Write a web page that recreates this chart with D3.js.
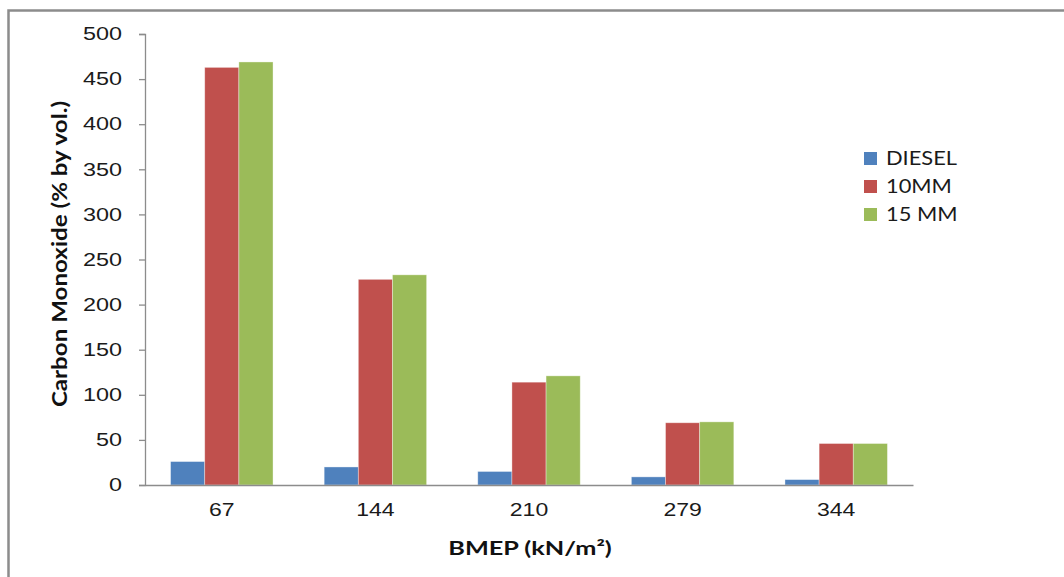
<!DOCTYPE html>
<html>
<head>
<meta charset="utf-8">
<script src="https://cdn.jsdelivr.net/npm/d3@7"></script>
<style>
  html, body { margin: 0; padding: 0; background: #fff; }
  svg { display: block; font-family: Lato, "Open Sans", "Liberation Sans", sans-serif; }
</style>
</head>
<body>
<svg id="chart" width="1064" height="577"></svg>
<script>
// BMEP load points (kN/m²)
const categories = ["67", "144", "210", "279", "344"];
// Carbon monoxide emissions for each fuel
const seriesNames = ["DIESEL", "10MM", "15 MM"];
const diesel = [26, 20, 15, 9, 6];
const mm10 = [463, 228, 114, 69, 46];
const mm15 = [469, 233, 121, 70, 46];
const yTicks = [0, 50, 100, 150, 200, 250, 300, 350, 400, 450, 500];
const colors = ["#4F81BD", "#C0504D", "#9BBB59"];

const seriesValues = [diesel, mm10, mm15];

const svg = d3.select("#chart");
const W = 1064, H = 577;

// widen glyphs horizontally around their anchor point
function widen(sel, k) {
  sel.each(function () {
    const t = d3.select(this);
    const x0 = +t.attr("x") || 0;
    const y0 = +t.attr("y") || 0;
    t.attr("transform", `translate(${x0},${y0}) scale(${k},1)`).attr("x", 0).attr("y", 0);
  });
}

// outer chart frame (left and top edges visible)
svg.append("rect").attr("x", 0).attr("y", 0).attr("width", W).attr("height", H).attr("fill", "#fff");
svg.append("path")
  .attr("d", `M8.5,${H} V10.5 H${W}`)
  .attr("fill", "none").attr("stroke", "#8c8c8c").attr("stroke-width", 2.5);

const plot = { left: 145, right: 913, top: 34, bottom: 485 };

const x = d3.scaleBand().domain(categories).range([plot.left, plot.right]).paddingInner(0.333).paddingOuter(0.1665);
const xs = d3.scaleBand().domain(seriesNames).range([0, x.bandwidth()]);
const y = d3.scaleLinear().domain([0, 500]).range([plot.bottom, plot.top]);

// bars
const groups = svg.append("g").selectAll("g")
  .data(categories)
  .join("g")
  .attr("transform", d => `translate(${x(d)},0)`);

groups.selectAll("rect")
  .data((c, i) => seriesNames.map((s, k) => ({ s, k, v: seriesValues[k][i] })))
  .join("rect")
  .attr("x", d => xs(d.s))
  .attr("width", xs.bandwidth())
  .attr("y", d => y(d.v))
  .attr("height", d => y(0) - y(d.v))
  .attr("fill", d => colors[d.k])
  .attr("stroke", "rgba(255,255,255,0.45)")
  .attr("stroke-width", 0.8);

// y axis
const yAxis = d3.axisLeft(y).tickValues(yTicks).tickSize(6).tickPadding(17).tickFormat(d3.format("d"));
const gy = svg.append("g").attr("transform", `translate(${plot.left},0)`).call(yAxis);
gy.select(".domain").attr("stroke", "#8c8c8c").attr("stroke-width", 1.3);
gy.selectAll(".tick line").attr("stroke", "#8c8c8c").attr("stroke-width", 1.3);
gy.selectAll(".tick text").attr("font-size", 18).attr("fill", "#1a1a1a");
widen(gy.selectAll(".tick text"), 1.3);

// x axis
const xAxis = d3.axisBottom(x).tickSize(0).tickPadding(18);
const gx = svg.append("g").attr("transform", `translate(0,${plot.bottom})`).call(xAxis);
gx.select(".domain").attr("stroke", "#8c8c8c").attr("stroke-width", 1.3);
gx.selectAll(".tick text").attr("font-size", 18).attr("fill", "#1a1a1a");
widen(gx.selectAll(".tick text"), 1.28);

// axis titles
const xTitle = svg.append("text")
  .attr("x", (plot.left + plot.right) / 2 + 1)
  .attr("y", 555)
  .attr("text-anchor", "middle")
  .attr("font-size", 19)
  .attr("font-weight", "bold")
  .attr("fill", "#111")
  .text("BMEP (kN/m²)");
widen(xTitle, 1.33);

svg.append("g")
  .attr("transform", "translate(67,254) rotate(-90)")
  .append("text")
  .attr("text-anchor", "middle")
  .attr("font-size", 21)
  .attr("font-weight", "bold")
  .attr("fill", "#111")
  .attr("transform", "scale(1.15,1)")
  .text("Carbon Monoxide (% by vol.)");

// legend
const legend = svg.append("g").attr("transform", "translate(864,152)");
const li = legend.selectAll("g").data(seriesNames).join("g")
  .attr("transform", (d, i) => `translate(0,${i * 28})`);
li.append("rect").attr("width", 13).attr("height", 13).attr("fill", (d, i) => colors[i]);
const lt = li.append("text").attr("x", 22).attr("y", 13).attr("font-size", 19).attr("fill", "#1a1a1a").text(d => d);
widen(lt, 1.15);
</script>
</body>
</html>
